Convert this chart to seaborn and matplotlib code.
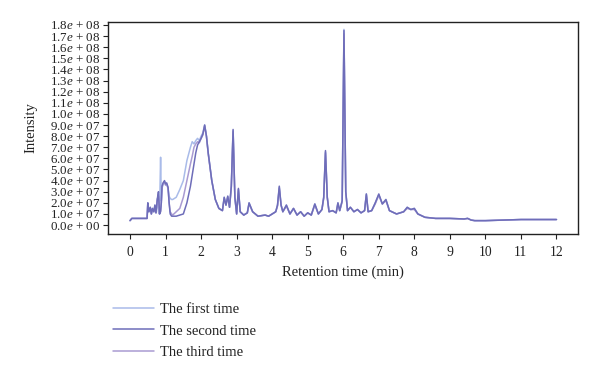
import pandas as pd
import matplotlib.pyplot as plt
import seaborn as sns
from matplotlib.ticker import FuncFormatter, MultipleLocator

# Retention time (min) shared by the three runs
time_min = [
    0.0, 0.05, 0.48, 0.5, 0.53, 0.57, 0.6, 0.63, 0.67, 0.7,
    0.73, 0.77, 0.8, 0.83, 0.86, 0.88, 0.9, 0.93, 0.97, 1.0,
    1.03, 1.07, 1.1, 1.13, 1.17, 1.2, 1.3, 1.4, 1.5, 1.6,
    1.7, 1.75, 1.8, 1.85, 1.9, 1.95, 2.0, 2.05, 2.1, 2.15,
    2.2, 2.3, 2.4, 2.5, 2.6, 2.65, 2.7, 2.75, 2.8, 2.85,
    2.9, 2.95, 3.0, 3.05, 3.1, 3.2, 3.3, 3.35, 3.45, 3.6,
    3.8, 3.9, 4.0, 4.1, 4.15, 4.2, 4.25, 4.3, 4.4, 4.5,
    4.6, 4.7, 4.8, 4.9, 5.0, 5.1, 5.2, 5.3, 5.4, 5.45,
    5.5, 5.55, 5.6, 5.7, 5.8, 5.85, 5.9, 5.97, 6.02, 6.07,
    6.12, 6.2, 6.3, 6.4, 6.5, 6.6, 6.65, 6.7, 6.8, 6.9,
    7.0, 7.1, 7.2, 7.3, 7.5, 7.7, 7.8, 7.9, 8.0, 8.1,
    8.3, 8.6, 9.0, 9.4, 9.5, 9.6, 9.7, 10.0, 10.5, 11.0,
    12.0,
]

# Intensity in units of 1e7
first_time = [
    0.4, 0.6, 0.6, 2.0, 1.2, 1.6, 1.0, 1.5, 1.2, 1.8,
    1.1, 2.4, 1.2, 1.0, 6.1, 2.2, 3.3, 3.7, 3.9, 3.6,
    3.7, 3.3, 2.6, 2.4, 2.3, 2.3, 2.5, 3.2, 4.0, 5.8,
    7.0, 7.5, 7.3, 7.6, 7.8, 7.6, 8.0, 8.3, 9.0, 8.0,
    6.5, 4.0, 2.3, 1.5, 1.3, 2.5, 1.8, 2.6, 1.6, 3.5,
    8.5, 2.5, 1.0, 3.2, 1.2, 0.9, 1.1, 2.0, 1.2, 0.8,
    0.9, 0.8, 1.0, 1.2, 1.8, 3.4, 1.8, 1.2, 1.8, 1.0,
    1.5, 0.9, 1.2, 0.8, 1.1, 0.9, 1.9, 1.0, 1.4, 2.5,
    6.6, 2.5, 1.2, 1.3, 1.1, 2.0, 1.3, 2.2, 17.6, 3.0,
    1.3, 1.6, 1.2, 1.4, 1.1, 1.3, 2.8, 1.2, 1.3, 2.0,
    2.7, 1.9, 2.3, 1.3, 1.0, 1.2, 1.6, 1.4, 1.5, 1.0,
    0.7, 0.6, 0.6, 0.55, 0.6, 0.45, 0.4, 0.4, 0.45, 0.5,
    0.5,
]

second_time = [
    0.4, 0.6, 0.6, 2.0, 1.2, 1.6, 1.0, 1.5, 1.2, 1.8,
    1.1, 2.4, 3.0, 1.0, 1.2, 2.0, 3.5, 3.8, 4.0, 3.7,
    3.8, 3.4, 2.0, 1.0, 0.8, 0.8, 0.8, 0.9, 1.0, 2.0,
    3.5, 4.5, 5.5, 6.5, 7.2, 7.5, 7.8, 8.2, 9.0, 8.0,
    6.5, 4.0, 2.3, 1.5, 1.3, 2.5, 1.8, 2.6, 1.6, 3.5,
    8.6, 2.5, 1.0, 3.3, 1.2, 0.9, 1.1, 2.0, 1.2, 0.8,
    0.9, 0.8, 1.0, 1.2, 1.8, 3.5, 1.8, 1.2, 1.8, 1.0,
    1.5, 0.9, 1.2, 0.8, 1.1, 0.9, 1.9, 1.0, 1.4, 2.5,
    6.7, 2.5, 1.2, 1.3, 1.1, 2.0, 1.3, 2.2, 17.5, 3.0,
    1.3, 1.6, 1.2, 1.4, 1.1, 1.3, 2.8, 1.2, 1.3, 2.0,
    2.8, 1.9, 2.3, 1.3, 1.0, 1.2, 1.6, 1.4, 1.5, 1.0,
    0.7, 0.6, 0.6, 0.55, 0.6, 0.45, 0.4, 0.4, 0.45, 0.5,
    0.5,
]

third_time = [
    0.4, 0.6, 0.6, 1.9, 1.2, 1.5, 1.0, 1.4, 1.2, 1.7,
    1.1, 2.3, 2.6, 1.0, 1.3, 2.0, 3.4, 3.7, 3.9, 3.6,
    3.7, 3.3, 2.0, 1.2, 1.0, 0.9, 1.2, 1.5, 2.5, 4.0,
    5.5, 6.2, 7.0, 7.3, 7.5, 7.4, 7.8, 8.1, 8.9, 8.0,
    6.4, 4.0, 2.3, 1.5, 1.3, 2.4, 1.8, 2.5, 1.6, 3.4,
    8.4, 2.5, 1.0, 3.2, 1.2, 0.9, 1.1, 1.9, 1.2, 0.8,
    0.9, 0.8, 1.0, 1.2, 1.7, 3.3, 1.8, 1.2, 1.7, 1.0,
    1.5, 0.9, 1.2, 0.8, 1.1, 0.9, 1.8, 1.0, 1.4, 2.4,
    6.5, 2.5, 1.2, 1.3, 1.1, 1.9, 1.3, 2.1, 17.2, 3.0,
    1.3, 1.6, 1.2, 1.4, 1.1, 1.3, 2.7, 1.2, 1.3, 1.9,
    2.7, 1.9, 2.2, 1.3, 1.0, 1.2, 1.5, 1.4, 1.4, 1.0,
    0.7, 0.6, 0.6, 0.55, 0.6, 0.45, 0.4, 0.4, 0.45, 0.5,
    0.5,
]

run_labels = ["The first time", "The second time", "The third time"]
run_colors = ["#a9bbe9", "#6e6db9", "#a99bd2"]

frames = []
for label, values in zip(run_labels, [first_time, second_time, third_time]):
    frames.append(pd.DataFrame({"time": time_min,
                                "intensity": [v * 1e7 for v in values],
                                "run": label}))
df = pd.concat(frames, ignore_index=True)

sns.set_style("ticks")
plt.rcParams['font.family'] = ['Liberation Serif', 'DejaVu Serif']
plt.rcParams['mathtext.fontset'] = 'custom'
plt.rcParams['mathtext.it'] = 'Liberation Serif:italic'
plt.rcParams['mathtext.rm'] = 'Liberation Serif'

fig = plt.figure(figsize=(6, 3.78), dpi=100)
ax = fig.add_axes([0.18, 0.381, 0.783, 0.561])

sns.lineplot(data=df, x="time", y="intensity", hue="run",
             palette=run_colors, linewidth=1.1, estimator=None,
             sort=False, ax=ax)
# keep the dark run on top, as in the original figure
ax.lines[1].set_zorder(3)

ax.set_xlim(-0.62, 12.6)
ax.set_ylim(-0.8e7, 18.27e7)
ax.xaxis.set_major_locator(MultipleLocator(1))
ax.yaxis.set_major_locator(MultipleLocator(1e7))


def sci_fmt(v, pos):
    if abs(v) < 1:
        return r"0.0$e$ + 00"
    exp = int(f"{v:e}".split("e")[1])
    mant = v / 10 ** exp
    return rf"{mant:.1f}$e$ + {exp:02d}"


ax.yaxis.set_major_formatter(FuncFormatter(sci_fmt))
ax.tick_params(axis='both', direction='out', length=3.5, width=0.8,
               colors='#222222', labelcolor='#222222')
ax.tick_params(axis='y', labelsize=9.4, pad=2)
ax.tick_params(axis='x', labelsize=9.8, pad=5)
for side in ['top', 'right', 'left', 'bottom']:
    ax.spines[side].set_visible(True)
    ax.spines[side].set_color('#222222')
    ax.spines[side].set_linewidth(1.0)

ax.set_xlabel("Retention time (min)", fontsize=10.5, color='#222222', labelpad=5)
ax.set_ylabel("Intensity", fontsize=10.5, color='#222222', labelpad=9)

handles, labels = ax.get_legend_handles_labels()
ax.get_legend().remove()
fig.legend(handles, labels, loc='upper left', bbox_to_anchor=(0.172, 0.225),
           frameon=False, fontsize=10.5, handlelength=2.8, handletextpad=0.4,
           labelspacing=0.55, borderpad=0.2, labelcolor='#222222')

fig.savefig("out.png", dpi=100)
